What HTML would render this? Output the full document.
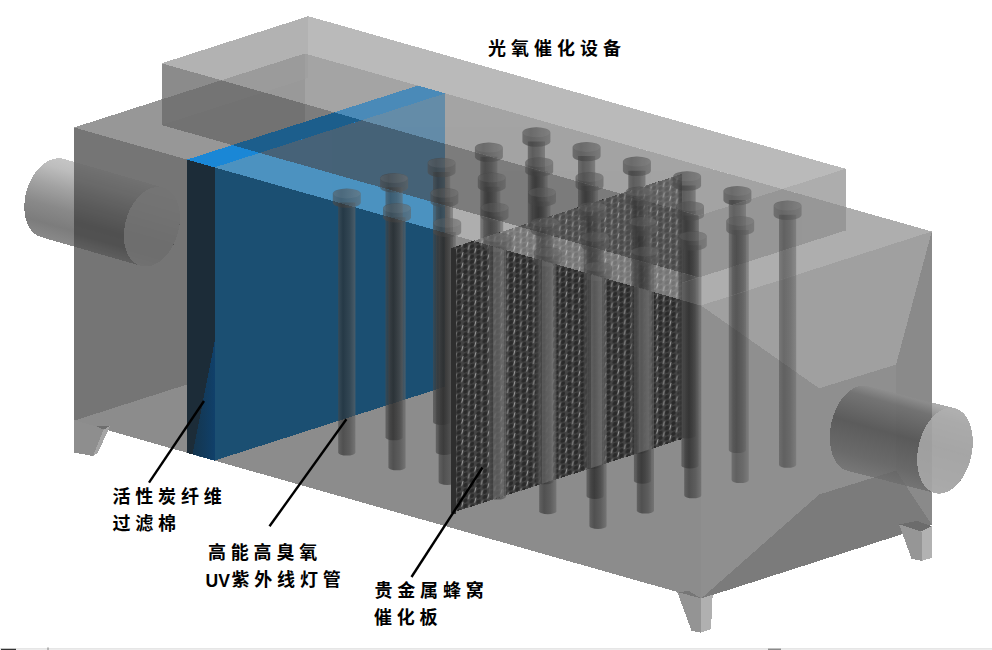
<!DOCTYPE html>
<html><head><meta charset="utf-8"><title>光氧催化设备</title>
<style>html,body{margin:0;padding:0;background:#fff;font-family:"Liberation Sans",sans-serif;}svg{display:block}</style></head>
<body><svg width="992" height="650" viewBox="0 0 992 650">
<defs><linearGradient id="gLc" gradientUnits="userSpaceOnUse" x1="62.4" y1="159.2" x2="40.4" y2="236.8"><stop offset="0" stop-color="#bebebe"/><stop offset="0.12" stop-color="#b6b6b6"/><stop offset="0.35" stop-color="#989898"/><stop offset="0.6" stop-color="#7c7c7c"/><stop offset="0.82" stop-color="#6e6e6e"/><stop offset="1" stop-color="#7c7c7c"/></linearGradient>
<linearGradient id="gLc2" gradientUnits="userSpaceOnUse" x1="62.4" y1="159.2" x2="40.4" y2="236.8"><stop offset="0" stop-color="#ebebeb"/><stop offset="0.2" stop-color="#c8c8c8"/><stop offset="0.45" stop-color="#8c8c8c"/><stop offset="0.7" stop-color="#585858"/><stop offset="0.85" stop-color="#5f5f5f"/><stop offset="1" stop-color="#969696"/></linearGradient>
<linearGradient id="gWedge" gradientUnits="userSpaceOnUse" x1="191.0" y1="0" x2="214.5" y2="0"><stop offset="0" stop-color="#0f3c5e" stop-opacity="0.55"/><stop offset="1" stop-color="#10406a" stop-opacity="1"/></linearGradient>
<pattern id="hc" width="13" height="10.4" patternUnits="userSpaceOnUse" patternTransform="translate(455.5,249) skewY(-17.8)">
<rect width="13" height="10.4" fill="#444"/>
<g fill="#2a2a2a"><ellipse cx="3.4" cy="2.6" rx="2.3" ry="2.2"/><ellipse cx="3.4" cy="7.8" rx="2.3" ry="2.2"/><ellipse cx="9.9" cy="0" rx="2.3" ry="2.2"/><ellipse cx="9.9" cy="5.2" rx="2.3" ry="2.2"/><ellipse cx="9.9" cy="10.4" rx="2.3" ry="2.2"/></g>
<path d="M1.0 0.3 L-0.3 4.9 M14.0 0.3 L12.7 4.9 M7.5 5.5 L6.2 10.1" stroke="#a0a0a0" stroke-width="0.95" fill="none"/>
</pattern>
<linearGradient id="gTube" gradientUnits="userSpaceOnUse" x1="-8.6" y1="0" x2="8.6" y2="0"><stop offset="0" stop-color="#484848"/><stop offset="0.28" stop-color="#2c2c2c"/><stop offset="0.65" stop-color="#404040"/><stop offset="1" stop-color="#666"/></linearGradient>
<linearGradient id="gCap" gradientUnits="userSpaceOnUse" x1="-14" y1="0" x2="14" y2="0"><stop offset="0" stop-color="#4e4e4e"/><stop offset="0.3" stop-color="#3c3c3c"/><stop offset="1" stop-color="#626262"/></linearGradient>
<clipPath id="zLow"><polygon points="-114.1,74.1 701.0,305.5 701.0,650.0 0.0,650.0 0.0,74.1"/></clipPath>
<clipPath id="zHop"><polygon points="701.0,305.5 931.8,231.5 992.0,212.5 992.0,650.0 701.0,650.0"/></clipPath>
<clipPath id="zS"><polygon points="74.0,127.5 653.5,292.0 698.8,277.5 119.2,113.0"/></clipPath>
<clipPath id="zTF"><polygon points="161.6,63.3 698.8,215.8 698.8,277.5 161.6,125.0"/></clipPath>
<clipPath id="zTT"><polygon points="161.6,63.3 308.3,16.2 845.6,168.8 698.8,215.8"/></clipPath>
<clipPath id="zTR"><polygon points="698.8,215.8 845.6,168.8 845.6,230.5 698.8,277.5"/></clipPath>
<clipPath id="zRS"><polygon points="653.5,292.0 884.3,218.0 931.8,231.5 701.0,305.5"/></clipPath>
<g id="lampsRear"><g transform="translate(536.4,0)"><path d="M-8.6 141.5 L-8.6 391.5 A8.6 3.0 0 0 0 8.6 391.5 L8.6 141.5 Z" fill="url(#gTube)" fill-opacity="0.62"/><path d="M-14.0 132.5 L-14.0 141.5 A14.0 5.2 0 0 0 14.0 141.5 L14.0 132.5 A14.0 5.2 0 0 0 -14.0 132.5 Z" fill="url(#gCap)" fill-opacity="0.66"/><ellipse cx="0" cy="132.5" rx="13.5" ry="4.8" fill="#c8c8c8" fill-opacity="0.09"/></g><g transform="translate(488.9,0)"><path d="M-8.6 156.8 L-8.6 406.8 A8.6 3.0 0 0 0 8.6 406.8 L8.6 156.8 Z" fill="url(#gTube)" fill-opacity="0.62"/><path d="M-14.0 147.8 L-14.0 156.8 A14.0 5.2 0 0 0 14.0 156.8 L14.0 147.8 A14.0 5.2 0 0 0 -14.0 147.8 Z" fill="url(#gCap)" fill-opacity="0.66"/><ellipse cx="0" cy="147.8" rx="13.5" ry="4.8" fill="#c8c8c8" fill-opacity="0.09"/></g><g transform="translate(586.6,0)"><path d="M-8.6 156.1 L-8.6 406.1 A8.6 3.0 0 0 0 8.6 406.1 L8.6 156.1 Z" fill="url(#gTube)" fill-opacity="0.62"/><path d="M-14.0 147.1 L-14.0 156.1 A14.0 5.2 0 0 0 14.0 156.1 L14.0 147.1 A14.0 5.2 0 0 0 -14.0 147.1 Z" fill="url(#gCap)" fill-opacity="0.66"/><ellipse cx="0" cy="147.1" rx="13.5" ry="4.8" fill="#c8c8c8" fill-opacity="0.09"/></g><g transform="translate(441.6,0)"><path d="M-8.6 172.0 L-8.6 422.0 A8.6 3.0 0 0 0 8.6 422.0 L8.6 172.0 Z" fill="url(#gTube)" fill-opacity="0.62"/><path d="M-14.0 163.0 L-14.0 172.0 A14.0 5.2 0 0 0 14.0 172.0 L14.0 163.0 A14.0 5.2 0 0 0 -14.0 163.0 Z" fill="url(#gCap)" fill-opacity="0.66"/><ellipse cx="0" cy="163.0" rx="13.5" ry="4.8" fill="#c8c8c8" fill-opacity="0.09"/></g><g transform="translate(539.2,0)"><path d="M-8.6 171.4 L-8.6 421.4 A8.6 3.0 0 0 0 8.6 421.4 L8.6 171.4 Z" fill="url(#gTube)" fill-opacity="0.62"/><path d="M-14.0 162.4 L-14.0 171.4 A14.0 5.2 0 0 0 14.0 171.4 L14.0 162.4 A14.0 5.2 0 0 0 -14.0 162.4 Z" fill="url(#gCap)" fill-opacity="0.66"/><ellipse cx="0" cy="162.4" rx="13.5" ry="4.8" fill="#c8c8c8" fill-opacity="0.09"/></g><g transform="translate(636.9,0)"><path d="M-8.6 170.8 L-8.6 420.8 A8.6 3.0 0 0 0 8.6 420.8 L8.6 170.8 Z" fill="url(#gTube)" fill-opacity="0.62"/><path d="M-14.0 161.8 L-14.0 170.8 A14.0 5.2 0 0 0 14.0 170.8 L14.0 161.8 A14.0 5.2 0 0 0 -14.0 161.8 Z" fill="url(#gCap)" fill-opacity="0.66"/><ellipse cx="0" cy="161.8" rx="13.5" ry="4.8" fill="#c8c8c8" fill-opacity="0.09"/></g><g transform="translate(394.1,0)"><path d="M-8.6 187.3 L-8.6 437.3 A8.6 3.0 0 0 0 8.6 437.3 L8.6 187.3 Z" fill="url(#gTube)" fill-opacity="0.62"/><path d="M-14.0 178.3 L-14.0 187.3 A14.0 5.2 0 0 0 14.0 187.3 L14.0 178.3 A14.0 5.2 0 0 0 -14.0 178.3 Z" fill="url(#gCap)" fill-opacity="0.66"/><ellipse cx="0" cy="178.3" rx="13.5" ry="4.8" fill="#c8c8c8" fill-opacity="0.09"/></g><g transform="translate(491.8,0)"><path d="M-8.6 186.7 L-8.6 436.7 A8.6 3.0 0 0 0 8.6 436.7 L8.6 186.7 Z" fill="url(#gTube)" fill-opacity="0.62"/><path d="M-14.0 177.7 L-14.0 186.7 A14.0 5.2 0 0 0 14.0 186.7 L14.0 177.7 A14.0 5.2 0 0 0 -14.0 177.7 Z" fill="url(#gCap)" fill-opacity="0.66"/><ellipse cx="0" cy="177.7" rx="13.5" ry="4.8" fill="#c8c8c8" fill-opacity="0.09"/></g><g transform="translate(589.5,0)"><path d="M-8.6 186.1 L-8.6 436.1 A8.6 3.0 0 0 0 8.6 436.1 L8.6 186.1 Z" fill="url(#gTube)" fill-opacity="0.62"/><path d="M-14.0 177.1 L-14.0 186.1 A14.0 5.2 0 0 0 14.0 186.1 L14.0 177.1 A14.0 5.2 0 0 0 -14.0 177.1 Z" fill="url(#gCap)" fill-opacity="0.66"/><ellipse cx="0" cy="177.1" rx="13.5" ry="4.8" fill="#c8c8c8" fill-opacity="0.09"/></g><g transform="translate(346.8,0)"><path d="M-8.6 202.6 L-8.6 452.6 A8.6 3.0 0 0 0 8.6 452.6 L8.6 202.6 Z" fill="url(#gTube)" fill-opacity="0.62"/><path d="M-14.0 193.6 L-14.0 202.6 A14.0 5.2 0 0 0 14.0 202.6 L14.0 193.6 A14.0 5.2 0 0 0 -14.0 193.6 Z" fill="url(#gCap)" fill-opacity="0.66"/><ellipse cx="0" cy="193.6" rx="13.5" ry="4.8" fill="#c8c8c8" fill-opacity="0.09"/></g><g transform="translate(444.4,0)"><path d="M-8.6 202.0 L-8.6 452.0 A8.6 3.0 0 0 0 8.6 452.0 L8.6 202.0 Z" fill="url(#gTube)" fill-opacity="0.62"/><path d="M-14.0 193.0 L-14.0 202.0 A14.0 5.2 0 0 0 14.0 202.0 L14.0 193.0 A14.0 5.2 0 0 0 -14.0 193.0 Z" fill="url(#gCap)" fill-opacity="0.66"/><ellipse cx="0" cy="193.0" rx="13.5" ry="4.8" fill="#c8c8c8" fill-opacity="0.09"/></g><g transform="translate(542.0,0)"><path d="M-8.6 201.4 L-8.6 451.4 A8.6 3.0 0 0 0 8.6 451.4 L8.6 201.4 Z" fill="url(#gTube)" fill-opacity="0.62"/><path d="M-14.0 192.4 L-14.0 201.4 A14.0 5.2 0 0 0 14.0 201.4 L14.0 192.4 A14.0 5.2 0 0 0 -14.0 192.4 Z" fill="url(#gCap)" fill-opacity="0.66"/><ellipse cx="0" cy="192.4" rx="13.5" ry="4.8" fill="#c8c8c8" fill-opacity="0.09"/></g><g transform="translate(397.0,0)"><path d="M-8.6 217.3 L-8.6 467.3 A8.6 3.0 0 0 0 8.6 467.3 L8.6 217.3 Z" fill="url(#gTube)" fill-opacity="0.62"/><path d="M-14.0 208.3 L-14.0 217.3 A14.0 5.2 0 0 0 14.0 217.3 L14.0 208.3 A14.0 5.2 0 0 0 -14.0 208.3 Z" fill="url(#gCap)" fill-opacity="0.66"/><ellipse cx="0" cy="208.3" rx="13.5" ry="4.8" fill="#c8c8c8" fill-opacity="0.09"/></g><g transform="translate(494.6,0)"><path d="M-8.6 216.6 L-8.6 466.6 A8.6 3.0 0 0 0 8.6 466.6 L8.6 216.6 Z" fill="url(#gTube)" fill-opacity="0.62"/><path d="M-14.0 207.6 L-14.0 216.6 A14.0 5.2 0 0 0 14.0 216.6 L14.0 207.6 A14.0 5.2 0 0 0 -14.0 207.6 Z" fill="url(#gCap)" fill-opacity="0.66"/><ellipse cx="0" cy="207.6" rx="13.5" ry="4.8" fill="#c8c8c8" fill-opacity="0.09"/></g><g transform="translate(447.2,0)"><path d="M-8.6 231.9 L-8.6 481.9 A8.6 3.0 0 0 0 8.6 481.9 L8.6 231.9 Z" fill="url(#gTube)" fill-opacity="0.62"/><path d="M-14.0 222.9 L-14.0 231.9 A14.0 5.2 0 0 0 14.0 231.9 L14.0 222.9 A14.0 5.2 0 0 0 -14.0 222.9 Z" fill="url(#gCap)" fill-opacity="0.66"/><ellipse cx="0" cy="222.9" rx="13.5" ry="4.8" fill="#c8c8c8" fill-opacity="0.09"/></g></g>
<g id="lampsFront"><g transform="translate(687.1,0)"><path d="M-8.6 185.5 L-8.6 435.5 A8.6 3.0 0 0 0 8.6 435.5 L8.6 185.5 Z" fill="url(#gTube)" fill-opacity="0.62"/><path d="M-14.0 176.5 L-14.0 185.5 A14.0 5.2 0 0 0 14.0 185.5 L14.0 176.5 A14.0 5.2 0 0 0 -14.0 176.5 Z" fill="url(#gCap)" fill-opacity="0.66"/><ellipse cx="0" cy="176.5" rx="13.5" ry="4.8" fill="#c8c8c8" fill-opacity="0.09"/></g><g transform="translate(639.7,0)"><path d="M-8.6 200.7 L-8.6 450.7 A8.6 3.0 0 0 0 8.6 450.7 L8.6 200.7 Z" fill="url(#gTube)" fill-opacity="0.62"/><path d="M-14.0 191.7 L-14.0 200.7 A14.0 5.2 0 0 0 14.0 200.7 L14.0 191.7 A14.0 5.2 0 0 0 -14.0 191.7 Z" fill="url(#gCap)" fill-opacity="0.66"/><ellipse cx="0" cy="191.7" rx="13.5" ry="4.8" fill="#c8c8c8" fill-opacity="0.09"/></g><g transform="translate(737.4,0)"><path d="M-8.6 200.1 L-8.6 450.1 A8.6 3.0 0 0 0 8.6 450.1 L8.6 200.1 Z" fill="url(#gTube)" fill-opacity="0.62"/><path d="M-14.0 191.1 L-14.0 200.1 A14.0 5.2 0 0 0 14.0 200.1 L14.0 191.1 A14.0 5.2 0 0 0 -14.0 191.1 Z" fill="url(#gCap)" fill-opacity="0.66"/><ellipse cx="0" cy="191.1" rx="13.5" ry="4.8" fill="#c8c8c8" fill-opacity="0.09"/></g><g transform="translate(592.3,0)"><path d="M-8.6 216.0 L-8.6 466.0 A8.6 3.0 0 0 0 8.6 466.0 L8.6 216.0 Z" fill="url(#gTube)" fill-opacity="0.62"/><path d="M-14.0 207.0 L-14.0 216.0 A14.0 5.2 0 0 0 14.0 216.0 L14.0 207.0 A14.0 5.2 0 0 0 -14.0 207.0 Z" fill="url(#gCap)" fill-opacity="0.66"/><ellipse cx="0" cy="207.0" rx="13.5" ry="4.8" fill="#c8c8c8" fill-opacity="0.09"/></g><g transform="translate(690.0,0)"><path d="M-8.6 215.4 L-8.6 465.4 A8.6 3.0 0 0 0 8.6 465.4 L8.6 215.4 Z" fill="url(#gTube)" fill-opacity="0.62"/><path d="M-14.0 206.4 L-14.0 215.4 A14.0 5.2 0 0 0 14.0 215.4 L14.0 206.4 A14.0 5.2 0 0 0 -14.0 206.4 Z" fill="url(#gCap)" fill-opacity="0.66"/><ellipse cx="0" cy="206.4" rx="13.5" ry="4.8" fill="#c8c8c8" fill-opacity="0.09"/></g><g transform="translate(787.6,0)"><path d="M-8.6 214.8 L-8.6 464.8 A8.6 3.0 0 0 0 8.6 464.8 L8.6 214.8 Z" fill="url(#gTube)" fill-opacity="0.62"/><path d="M-14.0 205.8 L-14.0 214.8 A14.0 5.2 0 0 0 14.0 214.8 L14.0 205.8 A14.0 5.2 0 0 0 -14.0 205.8 Z" fill="url(#gCap)" fill-opacity="0.66"/><ellipse cx="0" cy="205.8" rx="13.5" ry="4.8" fill="#c8c8c8" fill-opacity="0.09"/></g><g transform="translate(544.9,0)"><path d="M-8.6 231.3 L-8.6 481.3 A8.6 3.0 0 0 0 8.6 481.3 L8.6 231.3 Z" fill="url(#gTube)" fill-opacity="0.62"/><path d="M-14.0 222.3 L-14.0 231.3 A14.0 5.2 0 0 0 14.0 231.3 L14.0 222.3 A14.0 5.2 0 0 0 -14.0 222.3 Z" fill="url(#gCap)" fill-opacity="0.66"/><ellipse cx="0" cy="222.3" rx="13.5" ry="4.8" fill="#c8c8c8" fill-opacity="0.09"/></g><g transform="translate(642.5,0)"><path d="M-8.6 230.7 L-8.6 480.7 A8.6 3.0 0 0 0 8.6 480.7 L8.6 230.7 Z" fill="url(#gTube)" fill-opacity="0.62"/><path d="M-14.0 221.7 L-14.0 230.7 A14.0 5.2 0 0 0 14.0 230.7 L14.0 221.7 A14.0 5.2 0 0 0 -14.0 221.7 Z" fill="url(#gCap)" fill-opacity="0.66"/><ellipse cx="0" cy="221.7" rx="13.5" ry="4.8" fill="#c8c8c8" fill-opacity="0.09"/></g><g transform="translate(740.2,0)"><path d="M-8.6 230.1 L-8.6 480.1 A8.6 3.0 0 0 0 8.6 480.1 L8.6 230.1 Z" fill="url(#gTube)" fill-opacity="0.62"/><path d="M-14.0 221.1 L-14.0 230.1 A14.0 5.2 0 0 0 14.0 230.1 L14.0 221.1 A14.0 5.2 0 0 0 -14.0 221.1 Z" fill="url(#gCap)" fill-opacity="0.66"/><ellipse cx="0" cy="221.1" rx="13.5" ry="4.8" fill="#c8c8c8" fill-opacity="0.09"/></g><g transform="translate(497.5,0)"><path d="M-8.6 246.6 L-8.6 496.6 A8.6 3.0 0 0 0 8.6 496.6 L8.6 246.6 Z" fill="url(#gTube)" fill-opacity="0.62"/><path d="M-14.0 237.6 L-14.0 246.6 A14.0 5.2 0 0 0 14.0 246.6 L14.0 237.6 A14.0 5.2 0 0 0 -14.0 237.6 Z" fill="url(#gCap)" fill-opacity="0.66"/><ellipse cx="0" cy="237.6" rx="13.5" ry="4.8" fill="#c8c8c8" fill-opacity="0.09"/></g><g transform="translate(595.1,0)"><path d="M-8.6 246.0 L-8.6 496.0 A8.6 3.0 0 0 0 8.6 496.0 L8.6 246.0 Z" fill="url(#gTube)" fill-opacity="0.62"/><path d="M-14.0 237.0 L-14.0 246.0 A14.0 5.2 0 0 0 14.0 246.0 L14.0 237.0 A14.0 5.2 0 0 0 -14.0 237.0 Z" fill="url(#gCap)" fill-opacity="0.66"/><ellipse cx="0" cy="237.0" rx="13.5" ry="4.8" fill="#c8c8c8" fill-opacity="0.09"/></g><g transform="translate(692.8,0)"><path d="M-8.6 245.3 L-8.6 495.3 A8.6 3.0 0 0 0 8.6 495.3 L8.6 245.3 Z" fill="url(#gTube)" fill-opacity="0.62"/><path d="M-14.0 236.3 L-14.0 245.3 A14.0 5.2 0 0 0 14.0 245.3 L14.0 236.3 A14.0 5.2 0 0 0 -14.0 236.3 Z" fill="url(#gCap)" fill-opacity="0.66"/><ellipse cx="0" cy="236.3" rx="13.5" ry="4.8" fill="#c8c8c8" fill-opacity="0.09"/></g><g transform="translate(547.8,0)"><path d="M-8.6 261.2 L-8.6 511.2 A8.6 3.0 0 0 0 8.6 511.2 L8.6 261.2 Z" fill="url(#gTube)" fill-opacity="0.62"/><path d="M-14.0 252.2 L-14.0 261.2 A14.0 5.2 0 0 0 14.0 261.2 L14.0 252.2 A14.0 5.2 0 0 0 -14.0 252.2 Z" fill="url(#gCap)" fill-opacity="0.66"/><ellipse cx="0" cy="252.2" rx="13.5" ry="4.8" fill="#c8c8c8" fill-opacity="0.09"/></g><g transform="translate(645.4,0)"><path d="M-8.6 260.6 L-8.6 510.6 A8.6 3.0 0 0 0 8.6 510.6 L8.6 260.6 Z" fill="url(#gTube)" fill-opacity="0.62"/><path d="M-14.0 251.6 L-14.0 260.6 A14.0 5.2 0 0 0 14.0 260.6 L14.0 251.6 A14.0 5.2 0 0 0 -14.0 251.6 Z" fill="url(#gCap)" fill-opacity="0.66"/><ellipse cx="0" cy="251.6" rx="13.5" ry="4.8" fill="#c8c8c8" fill-opacity="0.09"/></g><g transform="translate(598.0,0)"><path d="M-8.6 275.9 L-8.6 525.9 A8.6 3.0 0 0 0 8.6 525.9 L8.6 275.9 Z" fill="url(#gTube)" fill-opacity="0.62"/><path d="M-14.0 266.9 L-14.0 275.9 A14.0 5.2 0 0 0 14.0 275.9 L14.0 266.9 A14.0 5.2 0 0 0 -14.0 266.9 Z" fill="url(#gCap)" fill-opacity="0.66"/><ellipse cx="0" cy="266.9" rx="13.5" ry="4.8" fill="#c8c8c8" fill-opacity="0.09"/></g></g>
<clipPath id="zPlate"><polygon points="451.1,248.0 473.4,240.9 681.9,300.1 681.9,439.1 451.1,513.1"/></clipPath>
<linearGradient id="gRc" gradientUnits="userSpaceOnUse" x1="869.6" y1="386.5" x2="845.6" y2="470.5"><stop offset="0" stop-color="#8c8c8c"/><stop offset="0.12" stop-color="#696969"/><stop offset="0.45" stop-color="#484848"/><stop offset="0.8" stop-color="#5c5c5c"/><stop offset="1" stop-color="#6e6e6e"/></linearGradient></defs>
<rect width="992" height="650" fill="#fff"/>
<polygon shape-rendering="crispEdges" points="74.0,246.6 41.1,237.1 37.8,235.8 34.8,233.9 32.1,231.3 29.7,228.2 27.8,224.5 26.2,220.4 25.1,215.9 24.5,211.2 24.3,206.1 24.6,201.0 25.4,195.8 26.7,190.6 28.4,185.5 30.5,180.7 33.0,176.2 35.8,172.0 38.9,168.3 42.3,165.1 45.8,162.4 49.4,160.4 53.0,159.0 56.7,158.3 60.3,158.2 63.7,158.9 74.0,161.8" fill="url(#gLc)" fill-opacity="0.900"/>
<polygon shape-rendering="crispEdges" points="74.0,246.6 74.0,161.8 163.2,187.6 166.5,188.9 169.5,190.8 172.2,193.4 174.6,196.5 176.5,200.2 178.1,204.3 179.2,208.8 179.8,213.5 180.0,218.6 179.7,223.7 178.9,228.9 177.6,234.1 175.9,239.2 173.8,244.0 171.3,248.5 168.5,252.7 165.4,256.4 162.0,259.6 158.5,262.3 154.9,264.3 151.3,265.7 147.6,266.4 144.0,266.5 140.6,265.8" fill="url(#gLc2)"/>
<polygon shape-rendering="crispEdges" points="180.0,217.7 179.7,222.8 179.0,228.0 177.8,233.2 176.2,238.3 174.2,243.2 171.8,247.8 169.0,252.0 165.9,255.8 162.6,259.1 159.2,261.8 155.6,264.0 151.9,265.5 148.2,266.3 144.6,266.5 141.2,266.0 137.9,264.8 134.8,263.0 132.0,260.5 129.6,257.5 127.6,253.9 126.0,249.9 124.8,245.5 124.1,240.7 123.8,235.7 124.1,230.6 124.8,225.4 126.0,220.2 127.6,215.1 129.6,210.2 132.0,205.6 134.8,201.4 137.9,197.6 141.2,194.3 144.6,191.6 148.2,189.4 151.9,187.9 155.6,187.1 159.2,186.9 162.6,187.4 165.9,188.6 169.0,190.4 171.8,192.9 174.2,195.9 176.2,199.5 177.8,203.5 179.0,207.9 179.7,212.7 180.0,217.7" fill="#fff" fill-opacity="0.800"/>
<polygon shape-rendering="crispEdges" points="74.0,127.5 304.8,53.5 304.8,346.7 74.0,420.7" fill="#3c3c3c" fill-opacity="0.528"/>
<polygon shape-rendering="crispEdges" points="304.8,53.5 931.8,231.5 931.8,524.7 304.8,346.7" fill="#969696" fill-opacity="0.528"/>
<polygon shape-rendering="crispEdges" points="74.0,420.7 304.8,346.7 931.8,524.7 701.0,598.7" fill="#969696" fill-opacity="0.528"/>
<polygon shape-rendering="crispEdges" points="931.8,231.5 931.8,524.7 896.0,470.6 896.0,364.6" fill="#535353" fill-opacity="0.528"/>
<polygon shape-rendering="crispEdges" points="701.0,598.7 819.2,494.5 896.0,470.6 931.8,524.7" fill="#373737" fill-opacity="0.528"/>
<polygon shape-rendering="crispEdges" points="74.0,127.5 701.0,305.5 701.0,598.7 74.0,420.7" fill="#565656" fill-opacity="0.528"/>
<polygon shape-rendering="crispEdges" points="74.0,127.5 304.8,53.5 931.8,231.5 701.0,305.5" fill="#989898" fill-opacity="0.528"/>
<polygon shape-rendering="crispEdges" points="701.0,305.5 931.8,231.5 896.0,364.6 819.2,388.3" fill="#7d7d7d" fill-opacity="0.528"/>
<polygon shape-rendering="crispEdges" points="701.0,305.5 819.2,388.3 819.2,494.5 701.0,598.7" fill="#5c5c5c" fill-opacity="0.528"/>
<polygon shape-rendering="crispEdges" points="819.2,388.3 896.0,364.6 896.0,470.6 819.2,494.5" fill="#5c5c5c" fill-opacity="0.528"/>
<polygon shape-rendering="crispEdges" points="161.6,63.3 308.3,16.2 308.3,77.9 161.6,125.0" fill="#a0a0a0" fill-opacity="0.528"/>
<polygon shape-rendering="crispEdges" points="308.3,54.5 308.3,16.2 845.6,168.8 845.6,207.0" fill="#c0c0c0" fill-opacity="0.528"/>
<polygon shape-rendering="crispEdges" points="161.6,63.3 698.8,215.8 698.8,277.5 161.6,125.0" fill="#525252" fill-opacity="0.528"/>
<polygon shape-rendering="crispEdges" points="698.8,215.8 845.6,168.8 845.6,230.5 698.8,277.5" fill="#828282" fill-opacity="0.528"/>
<polygon shape-rendering="crispEdges" points="161.6,63.3 308.3,16.2 845.6,168.8 698.8,215.8" fill="#9a9a9a" fill-opacity="0.528"/>
<polygon shape-rendering="crispEdges" points="214.5,167.4 445.3,93.4 445.3,386.6 214.5,460.6" fill="#1b4f72"/>
<polygon shape-rendering="crispEdges" points="214.5,167.4 214.5,167.4 445.3,93.4 445.3,232.9" fill="#4c92c0"/>
<polygon shape-rendering="crispEdges" points="259.7,152.9 445.3,93.4 445.3,205.6" fill="#466278"/>
<polygon shape-rendering="crispEdges" points="361.8,120.2 445.3,93.4 445.3,143.9" fill="#648ca8"/>
<polygon shape-rendering="crispEdges" points="187.0,159.6 214.5,167.4 214.5,460.6 187.0,452.8" fill="#1c2c38"/>
<polygon shape-rendering="crispEdges" points="214.5,342.4 214.5,460.6 192.5,454.6" fill="url(#gWedge)"/>
<polygon shape-rendering="crispEdges" points="187.0,159.6 214.5,167.4 445.3,93.4 417.8,85.6" fill="#1a87d6"/>
<polygon shape-rendering="crispEdges" points="232.2,145.1 259.7,152.9 445.3,93.4 417.8,85.6" fill="#1c5e8c"/>
<polygon shape-rendering="crispEdges" points="334.3,112.3 361.8,120.2 445.3,93.4 417.8,85.6" fill="#4a8ab8"/>
<g clip-path="url(#zLow)"><use href="#lampsRear"/></g>
<g clip-path="url(#zS)" opacity="0.85"><use href="#lampsRear"/></g>
<g clip-path="url(#zTF)" opacity="0.95"><use href="#lampsRear"/></g>
<g clip-path="url(#zTT)" opacity="0.95"><use href="#lampsRear"/></g>
<polygon shape-rendering="crispEdges" points="451.1,248.0 681.9,174.0 681.9,439.1 451.1,513.1" fill="url(#hc)"/>
<polygon shape-rendering="crispEdges" points="473.4,240.9 518.6,226.4 681.9,272.7 681.9,300.1" fill="#d0d0d0" fill-opacity="0.450"/>
<polygon shape-rendering="crispEdges" points="518.6,226.4 620.7,193.7 681.9,211.0 681.9,272.7" fill="#a8a8a8" fill-opacity="0.260"/>
<polygon shape-rendering="crispEdges" points="620.7,193.7 681.9,174.0 681.9,211.0" fill="#b8b8b8" fill-opacity="0.350"/>
<polygon shape-rendering="crispEdges" points="451.1,248.0 455.6,249.3 455.6,514.4 451.1,513.1" fill="#2e2e2e"/>
<g clip-path="url(#zLow)"><use href="#lampsFront"/></g>
<g clip-path="url(#zHop)" opacity="0.75"><use href="#lampsFront"/></g>
<g clip-path="url(#zS)" opacity="0.85"><use href="#lampsFront"/></g>
<g clip-path="url(#zTF)" opacity="0.95"><use href="#lampsFront"/></g>
<g clip-path="url(#zTT)" opacity="0.95"><use href="#lampsFront"/></g>
<g clip-path="url(#zTR)" opacity="0.80"><use href="#lampsFront"/></g>
<g clip-path="url(#zRS)" opacity="0.80"><use href="#lampsFront"/></g>
<g clip-path="url(#zPlate)" fill="#b0b0b0"><rect x="493.0" y="230" width="11" height="320" fill-opacity="0.22"/><rect x="488.8" y="230" width="17.5" height="320" fill-opacity="0.12"/><rect x="542.0" y="230" width="11" height="320" fill-opacity="0.22"/><rect x="537.8" y="230" width="17.5" height="320" fill-opacity="0.12"/><rect x="591.0" y="230" width="11" height="320" fill-opacity="0.22"/><rect x="586.8" y="230" width="17.5" height="320" fill-opacity="0.12"/><rect x="638.5" y="230" width="11" height="320" fill-opacity="0.22"/><rect x="634.3" y="230" width="17.5" height="320" fill-opacity="0.12"/></g>
<polygon shape-rendering="crispEdges" points="847.7,470.9 844.4,469.7 841.3,467.8 838.5,465.2 836.0,461.9 833.9,458.1 832.2,453.8 831.0,449.1 830.2,444.0 829.8,438.6 829.9,433.1 830.6,427.5 831.6,421.9 833.1,416.4 835.1,411.1 837.4,406.2 840.0,401.6 843.0,397.4 846.2,393.8 849.6,390.8 853.2,388.5 856.8,386.8 860.4,385.8 864.0,385.6 867.5,386.1 954.9,408.3 958.2,409.5 961.3,411.4 964.1,414.0 966.6,417.3 968.7,421.1 970.4,425.4 971.6,430.1 972.4,435.2 972.8,440.6 972.7,446.1 972.0,451.7 971.0,457.3 969.5,462.8 967.5,468.1 965.2,473.0 962.6,477.6 959.6,481.8 956.4,485.4 953.0,488.4 949.4,490.7 945.8,492.4 942.2,493.4 938.6,493.6 935.1,493.1" fill="url(#gRc)" fill-opacity="0.720"/>
<polygon shape-rendering="crispEdges" points="972.8,441.8 972.6,447.3 971.9,452.9 970.7,458.5 969.1,464.0 967.1,469.2 964.7,474.1 961.9,478.6 958.9,482.6 955.6,486.1 952.2,489.0 948.6,491.2 945.0,492.7 941.4,493.5 937.8,493.6 934.4,492.9 931.1,491.5 928.1,489.5 925.3,486.7 922.9,483.4 920.9,479.4 919.3,475.0 918.1,470.2 917.4,465.0 917.2,459.6 917.4,454.1 918.1,448.5 919.3,442.9 920.9,437.4 922.9,432.2 925.3,427.3 928.1,422.8 931.1,418.8 934.4,415.3 937.8,412.4 941.4,410.2 945.0,408.7 948.6,407.9 952.2,407.8 955.6,408.5 958.9,409.9 961.9,411.9 964.7,414.7 967.1,418.0 969.1,422.0 970.7,426.4 971.9,431.2 972.6,436.4 972.8,441.8" fill="#b0b0b0" fill-opacity="0.800"/>
<polygon shape-rendering="crispEdges" points="74.0,420.2 104.0,428.7 93.0,456.0 74.0,452.5" fill="#8e8e8e"/>
<polygon shape-rendering="crispEdges" points="104.0,428.7 110.0,426.0 98.0,452.5 93.0,456.0" fill="#a5a5a5"/>
<polygon shape-rendering="crispEdges" points="96.0,426.3 110.0,425.5 104.0,429.5" fill="#6e6e6e"/>
<polygon shape-rendering="crispEdges" points="677.3,592.0 701.0,598.4 701.0,632.6 691.5,630.8" fill="#949494"/>
<polygon shape-rendering="crispEdges" points="701.0,598.4 712.7,594.5 711.0,629.0 701.0,632.6" fill="#b0b0b0"/>
<polygon shape-rendering="crispEdges" points="677.3,592.0 689.0,591.2 701.0,598.4" fill="#767676"/>
<polygon shape-rendering="crispEdges" points="899.1,524.4 921.5,531.5 921.5,560.9 911.6,558.8" fill="#969696"/>
<polygon shape-rendering="crispEdges" points="921.5,531.5 931.8,526.1 931.8,558.0 921.5,560.9" fill="#b2b2b2"/>
<polygon shape-rendering="crispEdges" points="899.1,524.4 921.5,531.5 931.8,526.1 917.1,521.0" fill="#6c6c6c"/>
<line x1="204.0" y1="401.0" x2="149.0" y2="482.7" stroke="#000" stroke-width="2.4"/>
<line x1="346.4" y1="419.3" x2="269.5" y2="526.3" stroke="#000" stroke-width="2.4"/>
<line x1="482.5" y1="467.5" x2="411.5" y2="577.0" stroke="#000" stroke-width="2.4"/>
<g font-family="'Liberation Sans','Noto Sans CJK SC',sans-serif" font-size="18" font-weight="bold" fill="#000">
<text x="488" y="55" letter-spacing="5">光氧催化设备</text>
<text x="112.5" y="503" letter-spacing="4.8">活性炭纤维</text>
<text x="112.5" y="530" letter-spacing="4.8">过滤棉</text>
<text x="208" y="558.5" letter-spacing="4.8">高能高臭氧</text>
<text x="205.5" y="586.6" font-size="17.6">UV</text>
<text x="231.5" y="586" letter-spacing="4.8">紫外线灯管</text>
<text x="374.5" y="597" letter-spacing="4.8">贵金属蜂窝</text>
<text x="374" y="624" letter-spacing="4.8">催化板</text>
</g>
<rect x="0" y="648.2" width="992" height="1.8" fill="#ececec"/><rect x="0" y="648.2" width="992" height="0.5" fill="#dcdcdc"/><rect x="1" y="648.8" width="15" height="1.2" fill="#333"/><rect x="47.6" y="647.4" width="0.8" height="2.6" fill="#666"/><rect x="768" y="648.6" width="13" height="1.4" fill="#8a8a8a"/>
</svg></body></html>
